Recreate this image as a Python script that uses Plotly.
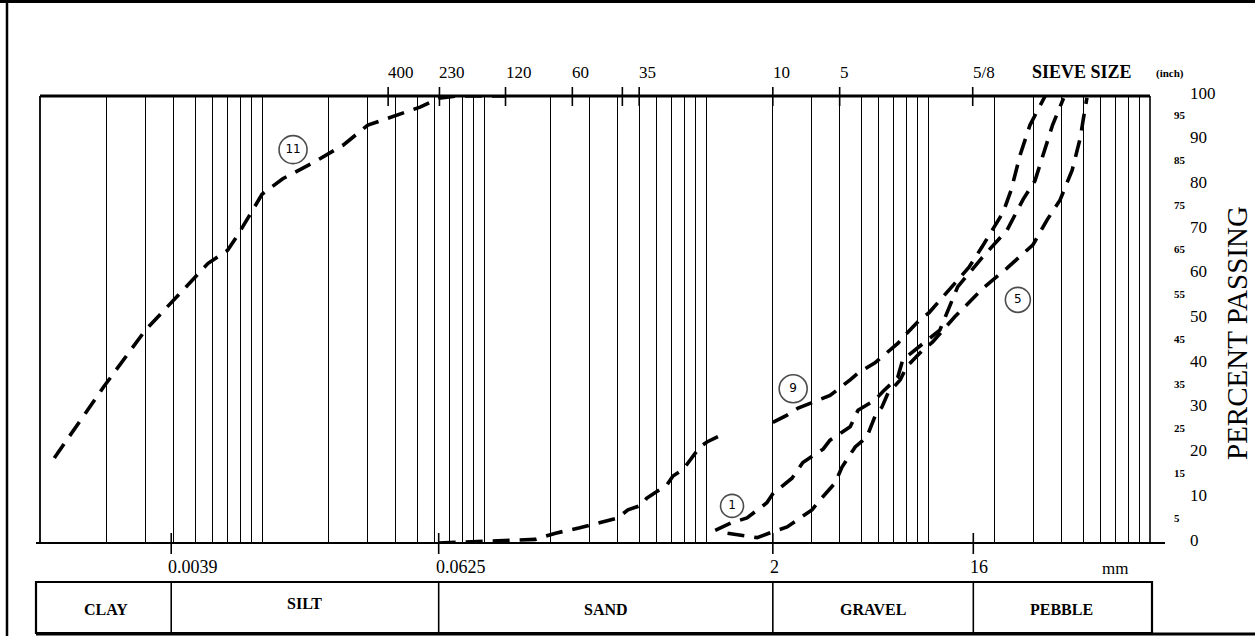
import math
import plotly.graph_objects as go

# ---------------- data ----------------
grid_mm = [round(m * 10.0 ** e, 6) for e in range(-3, 2) for m in range(1, 10)] + [100]

sieve_mm = [0.037, 0.063, 0.125, 0.25, 0.42, 0.5, 2.0, 4.0, 15.9]
sieve_labels = ["400", "230", "120", "60", "", "35", "10", "5", "5/8"]

scale_mm = [0.0039, 0.0625, 2, 16]
scale_labels = ["0.0039", "0.0625", "2", "16"]

class_bounds_mm = [0.001, 0.0039, 0.0625, 2, 16, 100]
class_names = ["CLAY", "SILT", "SAND", "GRAVEL", "PEBBLE"]

pct_major = [0, 10, 20, 30, 40, 50, 60, 70, 80, 90, 100]
pct_minor = [5, 15, 25, 35, 45, 55, 65, 75, 85, 95]

# sample 11 (silt)
c11_mm = [0.00116, 0.00194, 0.00297, 0.0057, 0.0070, 0.0078, 0.0100, 0.0124,
          0.0169, 0.0232, 0.0300, 0.0405, 0.0515, 0.0625, 0.075, 0.125]
c11_pct = [19, 35, 47.5, 62.5, 65.5, 69, 78, 81.5,
           85, 89, 93.5, 95.7, 97.5, 99.5, 100, 100]

# sample 9
c9_mm = [0.0625, 0.10, 0.17, 0.21, 0.27, 0.40, 0.445, 0.515, 0.54, 0.667, 0.71,
         0.79, 0.94, 1.01, 1.12, 1.22, None, 2.0, 2.32, 2.6, 3.2, 3.62, 4.46,
         4.84, 5.77, 6.21, 7.33, 7.88, 9.2, 10.1, 12.4, 15.3, 17.5, 21.8, 23.7,
         26.0, 28.8, 33.7]
c9_pct = [0, 0.3, 0.8, 2.2, 3.4, 5.6, 7.4, 8.5, 10, 13, 15,
          16.5, 21.5, 22.6, 23.7, 24.6, None, 27, 28.6, 30.2, 32, 33, 36.5,
          38, 40.3, 41.6, 44.7, 46.5, 50, 51.5, 56.6, 61.7, 66.2, 74, 79,
          86.8, 93.5, 100]

# sample 1
c1_mm = [1.1, 1.30, 1.53, 1.88, 2.0, 2.44, 2.73, 3.37, 3.62, 4.46, 4.84, 5.77,
         6.3, 7.3, 7.7, 9.2, 10.0, 11.3, 13.6, 17.5, 22.7, 26.9, 30.3, 33.0,
         36.4, 40.8]
c1_pct = [2.8, 4.5, 5.6, 9, 11, 14.5, 18, 21, 23, 26, 29.7, 32,
          34, 37, 41, 44, 45.4, 47.6, 57.3, 63.8, 70, 77, 81, 87,
          93.5, 99.5]

# sample 5
c5_mm = [1.25, 1.70, 2.0, 2.32, 2.5, 3.0, 3.26, 3.81, 4.1, 4.7, 5.3, 5.8, 6.2,
         6.6, 7.5, 8.0, 9.4, 10.5, 13.2, 17.7, 22.7, 29.7, 34.4, 39.3, 44.6,
         48.5, 50.9, 52.0]
c5_pct = [2.2, 1.2, 2.5, 3.6, 4.7, 7.4, 9.6, 13.4, 17, 21.5, 23.7, 28.6, 30.4,
          33.5, 36.5, 39.4, 43, 45, 50.6, 57, 61.5, 66.7, 72.3, 76.7, 83.4,
          90.6, 97, 99.6]

label_names = ["11", "9", "1", "5"]
label_mm = [0.0138, 2.47, 1.31, 25.4]
label_pct = [88, 34.5, 8.3, 54.4]
label_sizes = [28, 28, 23, 25]

# ---------------- layout helpers (pixel -> paper) ----------------
W, H = 1255, 636
L, R, T, B = 40, 1150, 96, 543
def px(p):
    return (p - L) / (R - L)
def py(p):
    return (B - p) / (B - T)

SERIF = "Liberation Serif"
fig = go.Figure()

line_style = dict(color="black", width=3.6, dash="17px,10px")
for xs, ys in [(c11_mm, c11_pct), (c9_mm, c9_pct), (c1_mm, c1_pct), (c5_mm, c5_pct)]:
    fig.add_trace(go.Scatter(x=xs, y=ys, mode="lines", line=line_style,
                             showlegend=False, hoverinfo="skip", connectgaps=False))

fig.add_trace(go.Scatter(
    x=label_mm, y=label_pct, mode="markers+text", text=label_names,
    textposition="middle center",
    textfont=dict(family="DejaVu Sans", size=12, color="black"),
    marker=dict(symbol="circle-open", size=label_sizes, color="black",
                line=dict(width=1.6, color="black")),
    showlegend=False, hoverinfo="skip"))

shapes = []
def hline(x0, x1, y, w=2, xref="paper"):
    shapes.append(dict(type="line", xref=xref, yref="paper", x0=x0, x1=x1,
                       y0=y, y1=y, line=dict(color="black", width=w)))
def vline(x, y0, y1, w=1.5, xref="x"):
    shapes.append(dict(type="line", xref=xref, yref="paper", x0=x, x1=x,
                       y0=y0, y1=y1, line=dict(color="black", width=w)))

# frame
hline(px(40), px(1150), 1, 2.8)
hline(px(36), px(1165), 0, 2.2)
vline(0, 0, 1, 1.8, "paper")
vline(1, 0, 1, 1.6, "paper")
# sieve ticks crossing top line
for m in sieve_mm:
    vline(m, py(106), py(87), 1.6)
# scale ticks at bottom
for m in scale_mm:
    vline(m, py(533), py(554), 1.6)
# classification boxes
shapes.append(dict(type="rect", xref="paper", yref="paper", x0=px(36), x1=px(1152),
                   y0=py(633), y1=py(582), line=dict(color="black", width=2.2)))
for b in class_bounds_mm[1:-1]:
    vline(b, py(633), py(582), 1.6)
# page border of the scan
hline(px(0), px(1255), py(1.5), 3)
hline(px(36), px(1255), py(634), 3)
vline(px(7), py(0), py(636), 2.5, "paper")

annotations = []
def ann(x, y, text, size, xref="paper", yref="paper", xanchor="center",
        yanchor="middle", xshift=0, yshift=0, angle=0, family=SERIF):
    annotations.append(dict(x=x, y=y, xref=xref, yref=yref, text=text,
                            showarrow=False, xanchor=xanchor, yanchor=yanchor,
                            xshift=xshift, yshift=yshift, textangle=angle,
                            font=dict(family=family, size=size, color="black")))

for m, lab in zip(sieve_mm, sieve_labels):
    if lab:
        ann(math.log10(m), py(72), lab, 17, xref="x", xanchor="left", xshift=-2)
ann(px(1030), py(72), "<b>SIEVE SIZE</b>", 18, xanchor="left")
ann(px(1154), py(74), "<b>(inch)</b>", 11, xanchor="left")

for m, lab in zip(scale_mm, scale_labels):
    ann(math.log10(m), py(567), lab, 18, xref="x", xanchor="left", xshift=-5)
ann(px(1115), py(568), "mm", 17)

for i, name in enumerate(class_names):
    mid = 0.5 * (math.log10(class_bounds_mm[i]) + math.log10(class_bounds_mm[i + 1]))
    ann(mid, py(603 if name == "SILT" else 609), "<b>" + name + "</b>", 16, xref="x")

for v in pct_major:
    ann(px(1188), v, str(v), 17, yref="y", xanchor="left", yshift=3)
for v in pct_minor:
    ann(px(1172), v, "<b>" + str(v) + "</b>", 11, yref="y", xanchor="left", yshift=3)

ann(px(1237), py(333), "PERCENT PASSING", 29, angle=-90)

fig.update_layout(
    width=W, height=H,
    margin=dict(l=L, r=W - R, t=T, b=H - B, pad=0),
    paper_bgcolor="white", plot_bgcolor="white",
    xaxis=dict(type="log", range=[-3, 2], tickvals=grid_mm, showticklabels=False,
               ticks="", showgrid=True, gridcolor="black", gridwidth=1.3,
               zeroline=False, showline=False, fixedrange=True),
    yaxis=dict(range=[0, 100], showgrid=False, showticklabels=False, ticks="",
               zeroline=False, showline=False, fixedrange=True),
    shapes=shapes, annotations=annotations, showlegend=False,
)

fig.write_html("out.html", config={"displayModeBar": False},
               post_script="document.body.style.margin='0px';")
